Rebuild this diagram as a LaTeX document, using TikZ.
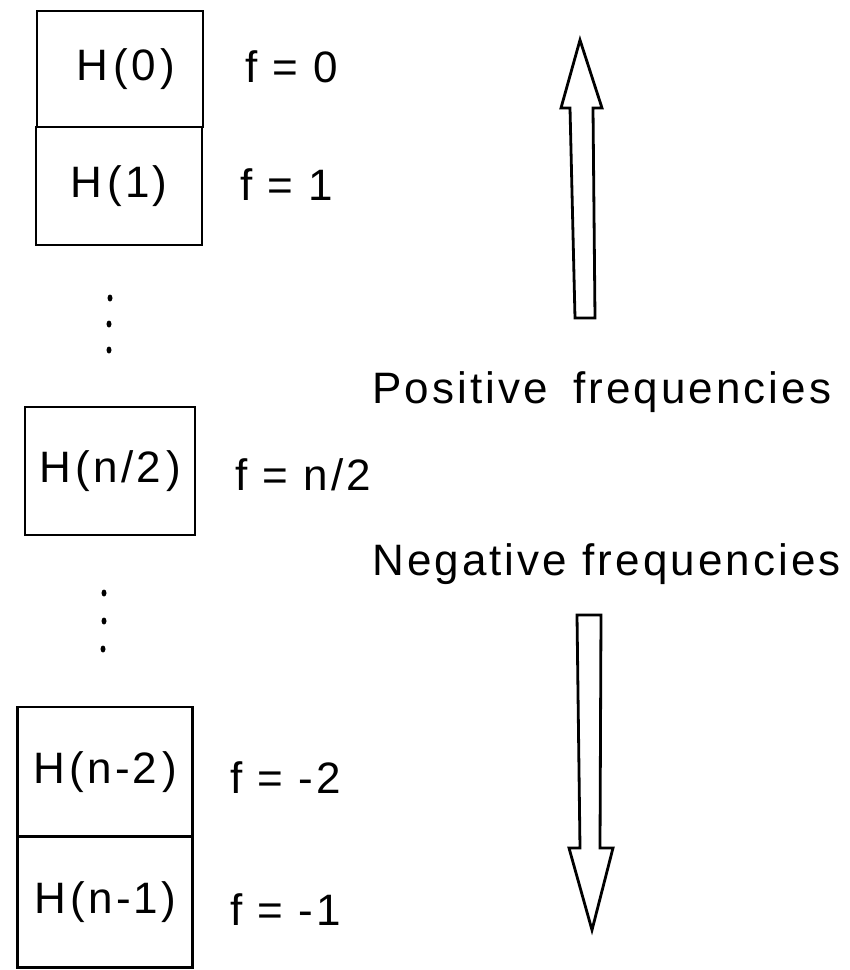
\documentclass[tikz,border=0pt]{standalone}
\usepackage{fontspec}
\usetikzlibrary{shapes.geometric}
\setmainfont{Liberation Sans}[LetterSpace=7]
\newcommand{\gp}{\hspace{5pt}}
\begin{document}
\begin{tikzpicture}[x=1pt,y=-1pt,
  cell/.style={draw,line width=2.8pt,inner sep=0pt,font=\fontsize{44}{48}\selectfont},
  flabel/.style={anchor=base west,inner sep=0pt,font=\fontsize{44}{48}\selectfont},
  caption/.style={anchor=base west,inner sep=0pt,font=\fontsize{44}{48}\selectfont},
  bigarrow/.style={draw,line width=2.8pt,line join=miter,fill=white},
  vdot/.style={ellipse,fill,inner sep=0pt,minimum width=5pt,minimum height=7pt}]
\useasboundingbox (0,0) rectangle (850,970);
% boxes
\node[cell,minimum width=166pt,minimum height=116pt] (h0) at (120,69) {\hspace{12pt}H\gp(0\gp)};
\node[cell,minimum width=166pt,minimum height=118pt] (h1) at (119,186) {H\gp(1)};
\node[cell,minimum width=170pt,minimum height=128pt] (hn2) at (110,471) {H\gp(n/2\gp)};
\node[cell,minimum width=175pt,minimum height=130pt] (hm2) at (105,772) {H\gp(n-2\gp)};
\node[cell,minimum width=175pt,minimum height=131pt] (hm1) at (105,902) {H\gp(n-1)};
% dots
\node[vdot] (d1) at (110,298) {};
\node[vdot] (d2) at (109,324) {};
\node[vdot] (d3) at (109,350) {};
\node[vdot] (d4) at (104,593) {};
\node[vdot] (d5) at (104,621) {};
\node[vdot] (d6) at (103,649) {};
% frequency labels
\node[flabel] (f0) at (245,82) {f = 0};
\node[flabel] (f1) at (240,200) {f = 1};
\node[flabel] (fn2) at (235,490) {f = n/2};
\node[flabel] (fm2) at (230,793) {f = -2};
\node[flabel] (fm1) at (230,925) {f = -1};
% captions
\node[caption] (pos) at (372,403) {Positive\hspace{10pt} frequencies};
\node[caption] (neg) at (372,575) {Negative frequencies};
% arrows
\draw[bigarrow] (580,40) -- (602,108) -- (593,108) -- (595,318) -- (575,318) -- (570,108) -- (561,108) -- cycle;
\draw[bigarrow] (577,615) -- (601,615) -- (600,848) -- (613,848) -- (592,930) -- (569,848) -- (580,848) -- cycle;
\end{tikzpicture}
\end{document}
